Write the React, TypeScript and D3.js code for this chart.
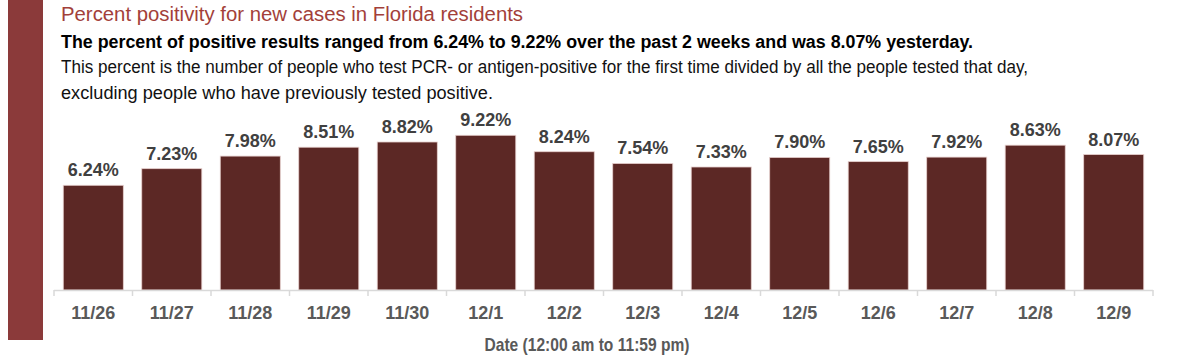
import * as d3 from 'd3';

const dates = ['11/26', '11/27', '11/28', '11/29', '11/30', '12/1', '12/2', '12/3', '12/4', '12/5', '12/6', '12/7', '12/8', '12/9'];
const positivity = [6.24, 7.23, 7.98, 8.51, 8.82, 9.22, 8.24, 7.54, 7.33, 7.9, 7.65, 7.92, 8.63, 8.07];

const title = 'Percent positivity for new cases in Florida residents';
const summary = 'The percent of positive results ranged from 6.24% to 9.22% over the past 2 weeks and was 8.07% yesterday.';
const noteLines = [
  'This percent is the number of people who test PCR- or antigen-positive for the first time divided by all the people tested that day,',
  'excluding people who have previously tested positive.',
];
const axisTitle = 'Date (12:00 am to 11:59 pm)';

const W = 1200;
const H = 358;
const font = "'Liberation Sans', Arial, sans-serif";

export default function App() {
  const x = d3.scaleBand<string>().domain(dates).range([54, 1153]).paddingInner(0.235).paddingOuter(0.118);
  const y = d3.scaleLinear().domain([0, 10]).range([290, 122.2]);
  const ticks = d3.range(dates.length + 1).map((i) => 54 + (i * (1153 - 54)) / dates.length);

  return (
    <svg width={W} height={H} style={{ position: 'absolute', left: 0, top: 0, background: '#fff' }}>
      {/* side accent bar */}
      <rect x={8} y={0} width={35} height={340} fill="#8b3a3a" />

      <text x={61} y={21} fontFamily={font} fontSize={20} fill="#a33f3a" textLength={462} lengthAdjust="spacingAndGlyphs">
        {title}
      </text>
      <text x={61} y={48} fontFamily={font} fontSize={18} fontWeight="bold" fill="#000" textLength={912} lengthAdjust="spacingAndGlyphs">
        {summary}
      </text>
      <text x={61} y={73} fontFamily={font} fontSize={17.5} fill="#111" textLength={967} lengthAdjust="spacingAndGlyphs">
        {noteLines[0]}
      </text>
      <text x={61} y={99} fontFamily={font} fontSize={17.5} fill="#111" textLength={432} lengthAdjust="spacingAndGlyphs">
        {noteLines[1]}
      </text>

      {/* bars */}
      {dates.map((d, i) => (
        <g key={d}>
          <rect
            x={x(d)}
            y={y(positivity[i])}
            width={x.bandwidth()}
            height={y(0) - y(positivity[i])}
            fill="#5c2825"
            stroke="#e6cfcd"
            strokeWidth={0.8}
          />
          <text
            x={(x(d) ?? 0) + x.bandwidth() / 2}
            y={y(positivity[i]) - 9}
            textAnchor="middle"
            fontFamily={font}
            fontWeight="bold"
            fontSize={18}
            fill="#404040"
          >
            {positivity[i].toFixed(2)}%
          </text>
          <text
            x={(x(d) ?? 0) + x.bandwidth() / 2}
            y={319}
            textAnchor="middle"
            fontFamily={font}
            fontWeight="bold"
            fontSize={18}
            fill="#595959"
          >
            {d}
          </text>
        </g>
      ))}

      {/* axis */}
      <line x1={54} x2={1153} y1={290.5} y2={290.5} stroke="#d9d9d9" strokeWidth={1.5} />
      {ticks.map((t, i) => (
        <line key={i} x1={t} x2={t} y1={290} y2={296} stroke="#d9d9d9" strokeWidth={1.5} />
      ))}

      <text x={587} y={351} textAnchor="middle" fontFamily={font} fontWeight="bold" fontSize={19} fill="#595959" textLength={205} lengthAdjust="spacingAndGlyphs">
        {axisTitle}
      </text>
    </svg>
  );
}
